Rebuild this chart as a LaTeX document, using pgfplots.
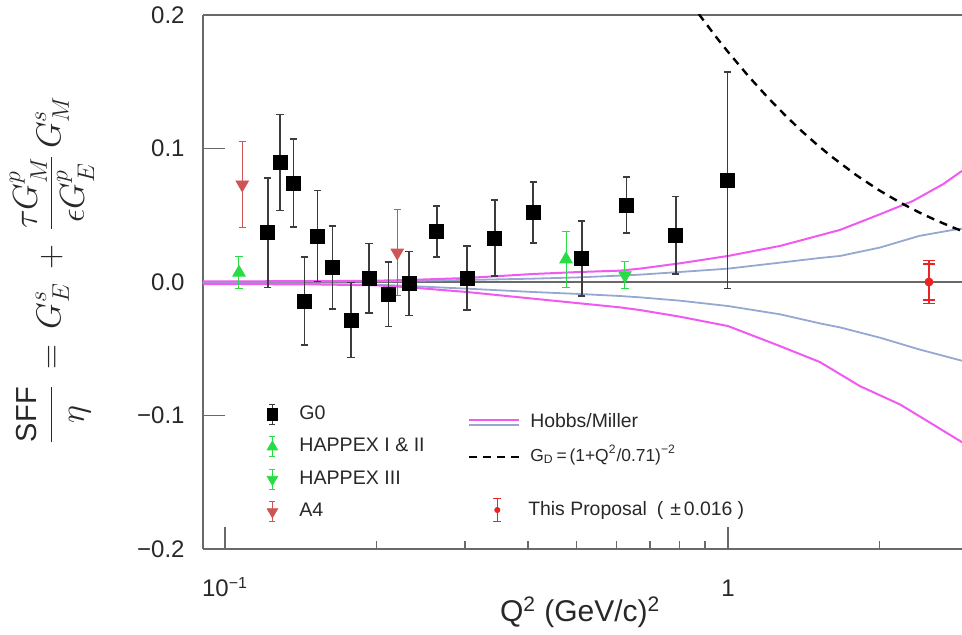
\documentclass[border=0pt]{standalone}
\usepackage{amsmath}
\usepackage{fontspec}
\setmainfont{Liberation Sans}
\usepackage{pgfplots}
\pgfplotsset{compat=1.18}

\definecolor{g0gray}{RGB}{60,60,60}
\definecolor{hapgreen}{RGB}{40,220,70}
\definecolor{a4red}{RGB}{205,85,85}
\definecolor{propred}{RGB}{235,35,35}
\definecolor{hmmag}{RGB}{240,90,240}
\definecolor{hmblue}{RGB}{150,168,210}
\definecolor{axgray}{RGB}{105,105,105}
\definecolor{txt}{RGB}{40,40,40}

% 1 px of the reference = 0.5pt
\begin{document}
\begin{tikzpicture}
\begin{axis}[width=379.5pt, height=267pt, scale only axis,
  xmode=log, xmin=0.0904, xmax=2.92, ymin=-0.2, ymax=0.2,
  axis x line*=box, axis y line*=left,
  axis line style={axgray, line width=0.7pt},
  tick style={axgray, line width=0.7pt},
  tick align=inside, tick pos=left,
  major tick length=11pt, minor tick length=4pt,
  xtick={0.1,1}, xticklabels={10\textsuperscript{−1},1},
  minor xtick={0.2,0.3,0.4,0.5,0.6,0.7,0.8,0.9,2},
  ytick={-0.2,-0.1,0,0.1,0.2}, yticklabels={−0.2,−0.1,0.0,0.1,0.2},
  xticklabel style={font=\fontsize{12}{14}\selectfont, text=txt, anchor=base, yshift=-24pt},
  yticklabel style={font=\fontsize{12}{14}\selectfont, text=txt, anchor=east, inner sep=0pt, xshift=-9pt},
  xlabel={Q\textsuperscript{2} (GeV/c)\textsuperscript{2}},
  xlabel style={font=\fontsize{15}{18}\selectfont, text=txt, at={(axis description cs:0.497,0)}, anchor=base, yshift=-36.5pt},
  ylabel={$\displaystyle\frac{\text{\fontsize{14.5}{16}\selectfont SFF}}{\eta} \,=\, G_E^s \,+\, \frac{\tau G_M^p}{\epsilon G_E^p}\,G_M^s$},
  ylabel style={font=\fontsize{18.5}{21}\selectfont, text=txt, at={(axis description cs:-0.199,0.522)}, anchor=center},
  legend style={draw=none, fill=none, font=\fontsize{9.8}{11}\selectfont, text=txt,
    at={(axis description cs:0.0725,0.275)}, anchor=north west,
    inner sep=0pt, row sep=4.2pt, column sep=5.5pt, nodes={inner sep=1pt, text height=7pt, text depth=2pt}},
  legend cell align=left,
]
% zero line
\addplot[axgray, line width=0.7pt, forget plot] coordinates {(0.0904,0) (2.92,0)};

% Hobbs/Miller bands
\addplot[hmblue, line width=0.9pt, forget plot] coordinates {
  (0.0904,0.0) (0.2,0.0005) (0.3028,0.0015) (0.41,0.0025) (0.508,0.0035) (0.61,0.0048)
  (0.668,0.0055) (0.803,0.0075) (1.0,0.010) (1.269,0.0145) (1.524,0.018) (1.67,0.0195)
  (2.005,0.0258) (2.4,0.0345) (2.8,0.039) (2.92,0.040)};
\addplot[hmblue, line width=0.9pt, forget plot] coordinates {
  (0.0904,-0.0008) (0.2,-0.002) (0.2322,-0.003) (0.3028,-0.005) (0.41,-0.0075) (0.508,-0.009)
  (0.61,-0.0105) (0.668,-0.0115) (0.803,-0.014) (1.0,-0.018) (1.269,-0.0242) (1.524,-0.031)
  (1.67,-0.034) (2.005,-0.0417) (2.4,-0.0505) (2.92,-0.059)};
\addplot[hmmag, line width=1pt, forget plot] coordinates {
  (0.0904,0.0005) (0.15,0.0006) (0.2,0.001) (0.2322,0.0015) (0.3028,0.003) (0.41,0.006)
  (0.508,0.0075) (0.61,0.0085) (0.668,0.010) (0.803,0.014) (1.0,0.0195) (1.269,0.027)
  (1.524,0.035) (1.67,0.039) (2.005,0.0507) (2.332,0.0607) (2.676,0.0732) (2.92,0.0832)};
\addplot[hmmag, line width=1pt, forget plot] coordinates {
  (0.0904,-0.0015) (0.15,-0.0018) (0.2,-0.0025) (0.2322,-0.004) (0.3028,-0.0075) (0.41,-0.0125)
  (0.508,-0.016) (0.61,-0.019) (0.668,-0.021) (0.803,-0.026) (1.0,-0.033) (1.269,-0.048)
  (1.524,-0.060) (1.83,-0.078) (2.198,-0.0917) (2.556,-0.1067) (2.92,-0.120)};

% G_D dipole
\addplot[black, line width=1.2pt, dash pattern=on 4pt off 3pt, forget plot] coordinates {
  (0.875,0.2007) (0.95,0.1829) (1.0,0.1724) (1.1,0.1539) (1.2,0.1382) (1.3,0.1248)
  (1.4,0.1132) (1.5,0.1032) (1.6,0.0945) (1.8,0.0800) (2.0,0.0686) (2.2,0.0595)
  (2.4,0.0521) (2.6,0.0460) (2.8,0.0409) (2.95,0.0376)};

% A4
\addplot[only marks, mark=triangle*, mark size=3.6pt, mark options={rotate=180}, a4red, forget plot,
  error bars/.cd, y dir=both, y explicit,
  error bar style={a4red, line width=0.5pt}, error mark options={rotate=90, a4red, line width=0.5pt, mark size=1.8pt}]
  table[x=x, y=y, y error=e] {
  x y e
  0.1082 0.073 0.032
  0.220 0.022 0.032
};
% HAPPEX I & II
\addplot[only marks, mark=triangle*, mark size=3.6pt, hapgreen, forget plot,
  error bars/.cd, y dir=both, y explicit,
  error bar style={hapgreen, line width=0.5pt}, error mark options={rotate=90, hapgreen, line width=0.5pt, mark size=1.8pt}]
  table[x=x, y=y, y error=e] {
  x y e
  0.1066 0.007 0.012
  0.4764 0.017 0.021
};
% HAPPEX III
\addplot[only marks, mark=triangle*, mark size=3.6pt, mark options={rotate=180}, hapgreen, forget plot,
  error bars/.cd, y dir=both, y explicit,
  error bar style={hapgreen, line width=0.5pt}, error mark options={rotate=90, hapgreen, line width=0.5pt, mark size=1.8pt}]
  table[x=x, y=y, y error=e] {
  x y e
  0.624 0.005 0.010
};
% G0
\addplot[only marks, mark=square*, mark size=3.5pt, black, forget plot,
  error bars/.cd, y dir=both, y explicit,
  error bar style={g0gray, line width=0.8pt}, error mark options={rotate=90, g0gray, line width=0.8pt, mark size=1.8pt}]
  table[x=x, y=y, y error=e] {
  x y e
  0.1216 0.037 0.041
  0.1286 0.0895 0.036
  0.1367 0.074 0.033
  0.1438 -0.0142 0.033
  0.1526 0.0345 0.034
  0.1637 0.0108 0.031
  0.1780 -0.0285 0.028
  0.1933 0.0028 0.026
  0.2112 -0.0092 0.024
  0.2322 -0.0012 0.024
  0.2636 0.0378 0.019
  0.3028 0.003 0.024
  0.3440 0.0328 0.0285
  0.4100 0.052 0.023
  0.5120 0.0175 0.028
  0.6290 0.0577 0.021
  0.7880 0.035 0.029
  0.9970 0.0762 0.081
};
% This proposal
\addplot[only marks, mark=none, propred, forget plot,
  error bars/.cd, y dir=both, y explicit,
  error bar style={propred, line width=1.2pt}, error mark options={rotate=90, propred, line width=0.8pt, mark size=3pt}]
  table[x=x, y=y, y error=e] {
  x y e
  2.51 0 0.0135
};
\addplot[only marks, mark=*, mark size=1.8pt, propred, forget plot,
  error bars/.cd, y dir=both, y explicit,
  error bar style={propred, line width=1.2pt}, error mark options={rotate=90, propred, line width=0.8pt, mark size=3pt}]
  table[x=x, y=y, y error=e] {
  x y e
  2.51 0 0.016
};

\addlegendimage{legend image code/.code={
  \path[draw=none] (0pt,-6pt) rectangle (14pt,6pt);
  \draw[g0gray, line width=0.6pt] (7pt,-5pt) -- (7pt,5pt) (5.5pt,-5pt) -- (8.5pt,-5pt) (5.5pt,5pt) -- (8.5pt,5pt);
  \fill[black] (4.3pt,-3pt) rectangle (9.7pt,3pt);}}
\addlegendentry{G0}
\addlegendimage{legend image code/.code={
  \path[draw=none] (0pt,-6pt) rectangle (14pt,6pt);
  \draw[hapgreen, line width=0.5pt] (7pt,-5pt) -- (7pt,5pt) (5.5pt,-5pt) -- (8.5pt,-5pt) (5.5pt,5pt) -- (8.5pt,5pt);
  \fill[hapgreen] (4.4pt,-1.5pt) -- (9.6pt,-1.5pt) -- (7pt,3pt) -- cycle;}}
\addlegendentry{HAPPEX I \& II}
\addlegendimage{legend image code/.code={
  \path[draw=none] (0pt,-6pt) rectangle (14pt,6pt);
  \draw[hapgreen, line width=0.5pt] (7pt,-5pt) -- (7pt,5pt) (5.5pt,-5pt) -- (8.5pt,-5pt) (5.5pt,5pt) -- (8.5pt,5pt);
  \fill[hapgreen] (4.4pt,1.5pt) -- (9.6pt,1.5pt) -- (7pt,-3pt) -- cycle;}}
\addlegendentry{HAPPEX III}
\addlegendimage{legend image code/.code={
  \path[draw=none] (0pt,-6pt) rectangle (14pt,6pt);
  \draw[a4red, line width=0.5pt] (7pt,-5pt) -- (7pt,5pt) (5.5pt,-5pt) -- (8.5pt,-5pt) (5.5pt,5pt) -- (8.5pt,5pt);
  \fill[a4red] (4.4pt,1.5pt) -- (9.6pt,1.5pt) -- (7pt,-3pt) -- cycle;}}
\addlegendentry{A4}
\end{axis}

% second legend column: model curves
\begin{axis}[width=379.5pt, height=267pt, scale only axis,
  xmode=log, xmin=0.0904, xmax=2.92, ymin=-0.2, ymax=0.2, hide axis,
  legend style={draw=none, fill=none, font=\fontsize{9.7}{11}\selectfont, text=txt,
    at={(axis description cs:0.349,0.26)}, anchor=north west,
    inner sep=0pt, row sep=5pt, column sep=4pt, nodes={inner sep=1pt, text height=7pt, text depth=2pt}},
  legend cell align=left]
\addplot[draw=none, forget plot] coordinates {(1,0)};
\addlegendimage{legend image code/.code={
  \path[draw=none] (0pt,-6pt) rectangle (25pt,6pt);
  \draw[hmmag, line width=1pt] (0pt,1.3pt) -- (25pt,1.3pt);
  \draw[hmblue, line width=1pt] (0pt,-1.3pt) -- (25pt,-1.3pt);}}
\addlegendentry{Hobbs/Miller}
\addlegendimage{legend image code/.code={
  \path[draw=none] (0pt,-6pt) rectangle (25pt,6pt);
  \draw[black, line width=1pt, dash pattern=on 4pt off 3pt] (0pt,0pt) -- (25pt,0pt);}}
\addlegendentry{\fontsize{8.7}{10}\selectfont G\textsubscript{D}\,=\,(1+Q\textsuperscript{2}/0.71)\textsuperscript{−2}}
\end{axis}

% third legend: proposal
\begin{axis}[width=379.5pt, height=267pt, scale only axis,
  xmode=log, xmin=0.0904, xmax=2.92, ymin=-0.2, ymax=0.2, hide axis,
  legend style={draw=none, fill=none, font=\fontsize{9.7}{11}\selectfont, text=txt,
    at={(axis description cs:0.349,0.073)}, anchor=west,
    inner sep=0pt, column sep=4pt, nodes={inner sep=1pt, text height=7pt, text depth=2pt}},
  legend cell align=left]
\addplot[draw=none, forget plot] coordinates {(1,0)};
\addlegendimage{legend image code/.code={
  \path[draw=none] (0pt,-6pt) rectangle (25pt,6pt);
  \draw[propred, line width=0.6pt] (14.5pt,-5.8pt) -- (14.5pt,5.8pt) (12.5pt,-5.8pt) -- (16.5pt,-5.8pt) (12.5pt,5.8pt) -- (16.5pt,5.8pt);
  \fill[propred] (14.5pt,0pt) circle (1.3pt);}}
\addlegendentry{This Proposal\hspace{5pt}(\hspace{3.5pt}±\hspace{1.5pt}0.016\hspace{2.5pt})}
\end{axis}

\pgfresetboundingbox
\path (-101.5pt,-43pt) rectangle (379.5pt,274.5pt);
\end{tikzpicture}
\end{document}
